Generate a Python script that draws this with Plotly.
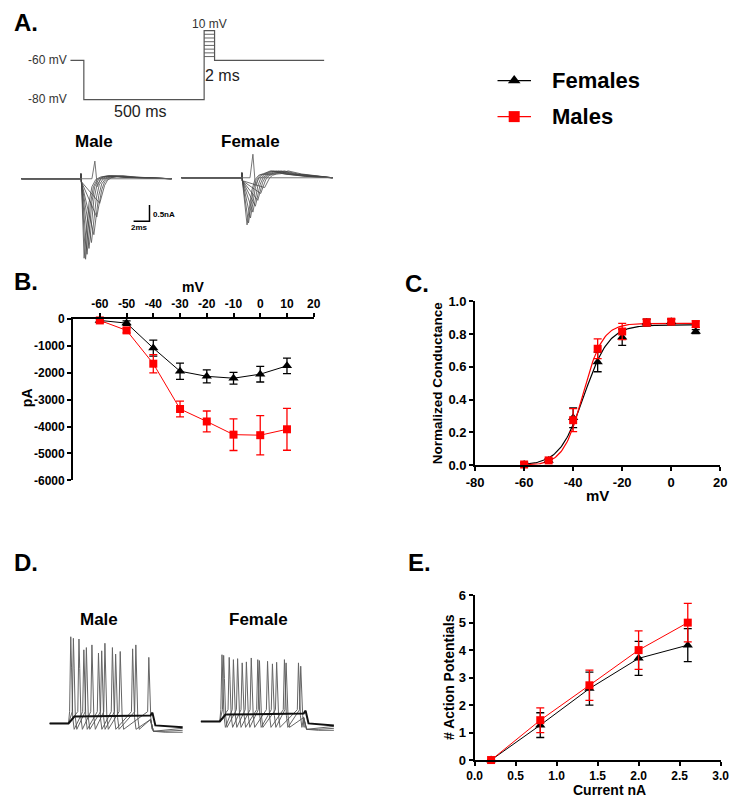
import math
import plotly.graph_objects as go

W, H = 740, 807
FONT = "Liberation Sans, Arial, sans-serif"
RED = "#ff0000"
BLK = "#000000"


def px(x):
    return x / W


def py(y):
    return 1 - y / H


# ---------------- Panel B : I-V ----------------
volt_B = [-60, -50, -40, -30, -20, -10, 0, 10]
fem_I = [-50, -150, -1080, -1940, -2130, -2200, -2050, -1740]
fem_I_err = [60, 80, 300, 300, 240, 220, 290, 290]
male_I = [-50, -420, -1660, -3345, -3810, -4300, -4320, -4100]
male_I_err = [80, 90, 340, 290, 390, 590, 730, 780]
ticks_B_x = [-60, -50, -40, -30, -20, -10, 0, 10, 20]
ticks_B_y = [0, -1000, -2000, -3000, -4000, -5000, -6000]

# ---------------- Panel C : conductance ----------------
volt_C = [-60, -50, -40, -30, -20, -10, 0, 10]
fem_G = [0.005, 0.03, 0.29, 0.63, 0.78, 0.87, 0.875, 0.815]
fem_G_err = [0.012, 0.01, 0.06, 0.06, 0.05, 0.02, 0.015, 0.012]
male_G = [0.005, 0.03, 0.275, 0.71, 0.815, 0.87, 0.875, 0.86]
male_G_err = [0.012, 0.01, 0.07, 0.06, 0.05, 0.02, 0.015, 0.02]
# Boltzmann fit parameters (Gmax, V1/2, slope k)
fem_fit = (0.855, -35.5, 5.0)
male_fit = (0.865, -36.0, 4.0)
ticks_C_x = [-80, -60, -40, -20, 0, 20]
ticks_C_y = [0.0, 0.2, 0.4, 0.6, 0.8, 1.0]

# ---------------- Panel E : action potentials ----------------
current_E = [0.2, 0.8, 1.4, 2.0, 2.6]
fem_AP = [0.0, 1.27, 2.6, 3.7, 4.18]
fem_AP_err = [0.0, 0.45, 0.6, 0.62, 0.6]
male_AP = [0.0, 1.45, 2.72, 4.0, 5.0]
male_AP_err = [0.0, 0.45, 0.55, 0.7, 0.7]
ticks_E_x = [0.0, 0.5, 1.0, 1.5, 2.0, 2.5, 3.0]
ticks_E_y = [0, 1, 2, 3, 4, 5, 6]

# ---------------- Illustrations (schematic, page pixels) ----------------
protocol_x = [63, 76.7, 76.7, 200, 200, 210.7, 210.7, 323]
protocol_y = [54.3, 54.3, 94.3, 94.3, 24, 24, 54.3, 54.3]
protocol_steps = 8
male_na_tx = [77, 78.5, 80, 82, 84.5, 87, 90, 93]
male_na_ty = [256, 257, 252, 246, 240, 232, 214, 200]
female_na_tx = [244, 245.5, 247.5, 250, 252.5, 255, 258, 262]
female_na_ty = [222, 220, 215, 209, 203, 197, 190, 184]
male_spk_x = [63.3, 66, 71.7, 76.7, 79.3, 85, 91.7, 95, 98.3, 106, 109.3, 114, 126.7, 130, 143.3]
male_spk_y = [641.7, 643.3, 644, 655, 652.7, 650, 658.3, 656, 648.3, 652.7, 659.3, 656.7, 654, 650, 662.7]
female_spk_x = [218.3, 220, 225.7, 230, 234.3, 239, 243.3, 248.3, 255, 256.7, 265, 270, 274.3,
                282.3, 284, 296.7, 299]
female_spk_y = [660, 660.7, 662.7, 665, 664, 668.3, 667.3, 663.3, 665, 666, 666.7, 669.3, 667.7,
                665, 668.3, 668.3, 671.7]


def boltz(v, p):
    g, vh, k = p
    return g / (1 + math.exp((vh - v) / k))


def lbl(vals, fmt="{:g}"):
    return [fmt.format(v) for v in vals]


fig = go.Figure()


def series(x, y, err, axes, color, symbol, size, mode="lines+markers"):
    fig.add_trace(go.Scatter(x=x, y=y, mode=mode, xaxis=axes[0], yaxis=axes[1],
                             line=dict(color=color, width=1),
                             marker=dict(symbol=symbol, size=size, color=color),
                             error_y=dict(type="data", array=err, color=color, thickness=1.3, width=4),
                             cliponaxis=False))


# ---- B
series(volt_B, fem_I, fem_I_err, ("x", "y"), BLK, "triangle-up", 9)
series(volt_B, male_I, male_I_err, ("x", "y"), RED, "square", 8)

# ---- C
vfit = [-60 + 0.5 * i for i in range(141)]
fig.add_trace(go.Scatter(x=vfit, y=[boltz(v, fem_fit) for v in vfit], mode="lines",
                         xaxis="x2", yaxis="y2", line=dict(color=BLK, width=1.2)))
fig.add_trace(go.Scatter(x=vfit, y=[boltz(v, male_fit) for v in vfit], mode="lines",
                         xaxis="x2", yaxis="y2", line=dict(color=RED, width=1.2)))
series(volt_C, fem_G, fem_G_err, ("x2", "y2"), BLK, "triangle-up", 9, mode="markers")
series(volt_C, male_G, male_G_err, ("x2", "y2"), RED, "square", 8, mode="markers")

# ---- E
series(current_E, fem_AP, fem_AP_err, ("x3", "y3"), BLK, "triangle-up", 9)
series(current_E, male_AP, male_AP_err, ("x3", "y3"), RED, "square", 8)


def ov(x, y, color="#555555", width=1.0, opacity=1.0):
    fig.add_trace(go.Scatter(x=x, y=y, mode="lines", xaxis="x4", yaxis="y4",
                             line=dict(color=color, width=width), opacity=opacity,
                             hoverinfo="skip"))


# protocol
ov(protocol_x, protocol_y, color="#555555", width=1.2)
top, bot = protocol_y[4], protocol_y[6]
for i in range(1, protocol_steps):
    yy = top + i * (bot - top) / protocol_steps
    ov([protocol_x[3], protocol_x[5]], [yy, yy], color="#555555", width=0.9)


def na_sweeps(tx, ty, x0, x1, onset, base, tail, up_x, up_y):
    dts = [0, 2.5, 5, 8, 12, 17]
    fr = [1.0, 0.62, 0.32, 0.12, 0.03, 0.0]
    for t, yk in zip(tx, ty):
        xs = [x0, onset, onset + 0.4, onset + 0.9, t]
        ys = [base, base, base - 5, base + 3, yk]
        for d, f in zip(dts[1:], fr[1:]):
            xs.append(t + d)
            ys.append(base + (yk - base) * f - tail * (1 - f) * 0.6)
        xs += [t + 24, t + 38, t + 60, x1]
        ys += [base - tail, base - tail * 0.55, base - tail * 0.2, base]
        ov(xs, ys, color="#444444", width=0.9, opacity=0.85)
    ov([x0, up_x - 3, up_x, up_x + 2.5, up_x + 6, x1],
       [base, base, up_y, base + 8, base, base], color="#666666", width=0.9)


na_sweeps(male_na_tx, male_na_ty, 12.7, 166.7, 73.3, 175, 3, 88, 157)
na_sweeps(female_na_tx, female_na_ty, 176.7, 331.7, 238.3, 174, 7, 250, 150)
ov([127.7, 144, 144], [218.3, 218.3, 201.7], color=BLK, width=1.5)


def spike_trains(sx, sy, x0, x1, on, off, base, n_sweeps=3):
    for k in range(n_sweeps):
        spikes = list(zip(sx, sy))[k::n_sweeps]
        xs = [x0, on]
        ys = [base, base]
        for s, pk in spikes:
            xs += [s - 1.2, s, s + 0.8, s + 2.0, s + 3.5]
            ys += [base - 12, pk, pk + 0.35 * (base - pk), base - 6, base + 6]
        xs += [off, off + 3, off + 15, x1]
        ys += [base - 4, base + 8, base + 7 + k, base + 5 + k * 2]
        ov(xs, ys, color="#555555", width=1.0, opacity=0.9)
    ov([x0, on, on + 6, off, off + 2, off + 5, x1],
       [base, base, base - 7, base - 8, base - 11, base + 2, base + 4], color="#111111", width=2)


spike_trains(male_spk_x, male_spk_y, 41.7, 178, 61, 145, 730)
spike_trains(female_spk_x, female_spk_y, 196.7, 333, 216, 302, 728)

# legend samples
ov([500.7, 535], [75, 75], color=BLK, width=1.2)
ov([500.7, 535], [111.7, 111.7], color=RED, width=1.2)
fig.add_trace(go.Scatter(x=[517.8], y=[75], mode="markers", xaxis="x4", yaxis="y4",
                         marker=dict(symbol="triangle-up", size=11, color=BLK)))
fig.add_trace(go.Scatter(x=[517.8], y=[111.7], mode="markers", xaxis="x4", yaxis="y4",
                         marker=dict(symbol="square", size=11, color=RED)))

# ---------------- annotations ----------------
ann = []


def text(x, y, s, size, bold=True, xanchor="center", color=BLK, angle=0):
    ann.append(dict(x=px(x), y=py(y), xref="paper", yref="paper", text=("<b>%s</b>" % s) if bold else s,
                    showarrow=False, xanchor=xanchor, yanchor="middle", textangle=angle,
                    font=dict(family=FONT, size=size, color=color)))


text(3, 16, "A.", 24, xanchor="left")
text(3, 280, "B.", 24, xanchor="left")
text(404, 282, "C.", 24, xanchor="left")
text(3, 566, "D.", 24, xanchor="left")
text(407, 566, "E.", 24, xanchor="left")

text(62, 54.3, "-60 mV", 12, bold=False, xanchor="right", color="#333333")
text(62, 93.8, "-80 mV", 12, bold=False, xanchor="right", color="#333333")
text(205, 17, "10 mV", 12, bold=False, color="#333333")
text(199, 70, "2 ms", 16, bold=False, xanchor="left", color="#222222")
text(134, 106, "500 ms", 16, bold=False, color="#222222")
text(87, 137, "Male", 17)
text(248, 137, "Female", 17)
text(146, 211, "0.5nA", 8, xanchor="left")
text(134, 224.5, "2ms", 8)
text(92.7, 624.3, "Male", 17)
text(256, 624.3, "Female", 17)

text(554, 75, "Females", 22, xanchor="left")
text(554, 111.7, "Males", 22, xanchor="left")

text(189, 285, "mV", 14)
text(18, 398, "pA", 14, angle=-90)
text(440, 383, "Normalized Conductance", 13.5, angle=-90)
text(603, 498, "mV", 15)
text(451.7, 683, "# Action Potentials", 14, angle=-90)
text(615.7, 797.5, "Current nA", 14)

fig.update_layout(annotations=ann)


def axis(size, **kw):
    d = dict(showline=True, linecolor=BLK, linewidth=2, ticks="outside", ticklen=4,
             tickwidth=2, tickcolor=BLK, showgrid=False, zeroline=False,
             tickfont=dict(family=FONT, size=size, color=BLK, weight="bold"))
    d.update(kw)
    return d


fig.update_layout(
    width=W, height=H, margin=dict(l=0, r=0, t=0, b=0),
    paper_bgcolor="white", plot_bgcolor="rgba(0,0,0,0)", showlegend=False,
    xaxis=axis(12, domain=[px(65.7), px(312.3)], range=[-70, 20], side="top", anchor="y",
               tickvals=ticks_B_x, ticktext=lbl(ticks_B_x)),
    yaxis=axis(12, domain=[py(482.3), py(318)], range=[-6000, 0], anchor="x",
               tickvals=ticks_B_y, ticktext=lbl(ticks_B_y)),
    xaxis2=axis(13, domain=[px(477.7), px(729)], range=[-80, 20], anchor="y2",
                tickvals=ticks_C_x, ticktext=lbl(ticks_C_x)),
    yaxis2=axis(13, domain=[py(467), py(299.7)], range=[0, 1], anchor="x2",
                tickvals=ticks_C_y, ticktext=lbl(ticks_C_y, "{:.1f}")),
    xaxis3=axis(12, domain=[px(477.3), px(729.3)], range=[0, 3], anchor="y3",
                tickvals=ticks_E_x, ticktext=lbl(ticks_E_x, "{:.1f}")),
    yaxis3=axis(13, domain=[py(767.3), py(599.3)], range=[0, 6], anchor="x3",
                tickvals=ticks_E_y, ticktext=lbl(ticks_E_y)),
    xaxis4=dict(domain=[0, 1], range=[0, W], anchor="y4", visible=False, fixedrange=True),
    yaxis4=dict(domain=[0, 1], range=[H, 0], anchor="x4", visible=False, fixedrange=True),
)

fig.write_html("out.html", post_script="document.body.style.margin='0';",
               config={"displayModeBar": False})
